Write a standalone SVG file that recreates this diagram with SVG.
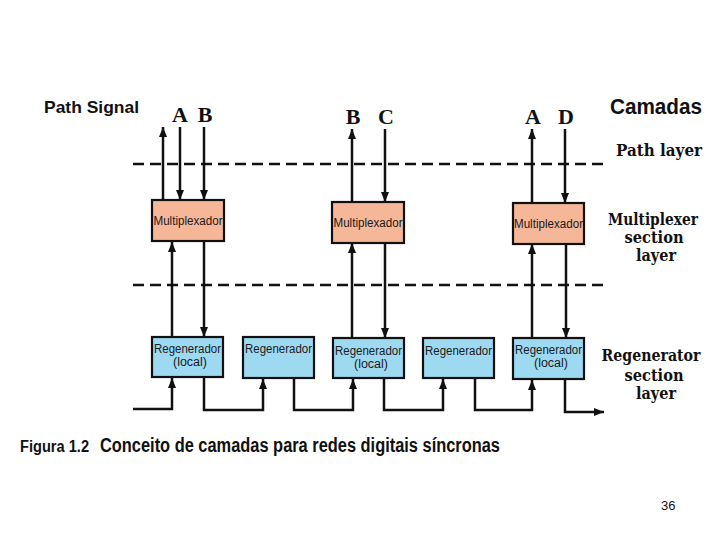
<svg xmlns="http://www.w3.org/2000/svg" width="720" height="540" viewBox="0 0 720 540">
<style>
.mux{fill:#F5B797;stroke:#111;stroke-width:2.2}
.reg{fill:#9ED9F2;stroke:#111;stroke-width:2.2}
.bt{font-family:"Liberation Sans",Arial,sans-serif;font-size:12.5px;fill:#1a1a1a;text-anchor:middle}
.ln{fill:none;stroke:#111;stroke-width:2.5}
.dash{fill:none;stroke:#111;stroke-width:2.6;stroke-dasharray:11 6}
.let{font-family:"Liberation Serif","Times New Roman",serif;font-weight:bold;font-size:22px;fill:#111;text-anchor:middle}
.lay{font-family:"DejaVu Serif",serif;font-weight:bold;font-size:16px;fill:#111;text-anchor:middle}
.sans{font-family:"Liberation Sans",Arial,sans-serif;fill:#111}
</style>
<defs>
<marker id="ah" viewBox="0 0 10 8" refX="10" refY="4" markerWidth="10" markerHeight="8" markerUnits="userSpaceOnUse" orient="auto">
<path d="M0,0 L10,4 L0,8 z" fill="#111"/>
</marker>
</defs>
<rect width="720" height="540" fill="#fff"/>

<g id="connectors">
<line class="dash" x1="133" y1="164" x2="605" y2="164"/>
<line class="dash" x1="133" y1="285" x2="605" y2="285"/>
<line class="ln" x1="163" y1="200" x2="163" y2="127" marker-end="url(#ah)"/>
<line class="ln" x1="180" y1="127" x2="180" y2="200" marker-end="url(#ah)"/>
<line class="ln" x1="204" y1="127" x2="204" y2="200" marker-end="url(#ah)"/>
<line class="ln" x1="352" y1="202" x2="352" y2="129" marker-end="url(#ah)"/>
<line class="ln" x1="385" y1="129" x2="385" y2="202" marker-end="url(#ah)"/>
<line class="ln" x1="532" y1="203" x2="532" y2="129" marker-end="url(#ah)"/>
<line class="ln" x1="565" y1="129" x2="565" y2="203" marker-end="url(#ah)"/>
<line class="ln" x1="172" y1="337" x2="172" y2="242" marker-end="url(#ah)"/>
<line class="ln" x1="204" y1="242" x2="204" y2="337" marker-end="url(#ah)"/>
<line class="ln" x1="352" y1="338" x2="352" y2="243" marker-end="url(#ah)"/>
<line class="ln" x1="385" y1="243" x2="385" y2="338" marker-end="url(#ah)"/>
<line class="ln" x1="532" y1="338" x2="532" y2="244" marker-end="url(#ah)"/>
<line class="ln" x1="566" y1="244" x2="566" y2="338" marker-end="url(#ah)"/>
<polyline class="ln" points="133,409 172,409 172,378" marker-end="url(#ah)"/>
<polyline class="ln" points="204,378 204,410 263,410 263,379" marker-end="url(#ah)"/>
<polyline class="ln" points="294,379 294,410 353,410 353,379" marker-end="url(#ah)"/>
<polyline class="ln" points="384,379 384,410 443,410 443,379" marker-end="url(#ah)"/>
<polyline class="ln" points="475,379 475,410 532,410 532,380" marker-end="url(#ah)"/>
<polyline class="ln" points="565,380 565,412 604,412" marker-end="url(#ah)"/>
</g>

<g id="mux1"><rect class="mux" x="152" y="200" width="72" height="41"/><text class="bt" x="188" y="225" textLength="69" lengthAdjust="spacingAndGlyphs">Multiplexador</text></g>
<g id="mux2"><rect class="mux" x="332" y="202" width="72" height="41"/><text class="bt" x="368" y="227" textLength="69" lengthAdjust="spacingAndGlyphs">Multiplexador</text></g>
<g id="mux3"><rect class="mux" x="513" y="203" width="71" height="41"/><text class="bt" x="548.5" y="228" textLength="69" lengthAdjust="spacingAndGlyphs">Multiplexador</text></g>

<g id="reg1"><rect class="reg" x="152" y="337" width="71" height="40"/><text class="bt" x="187.5" y="353" textLength="67" lengthAdjust="spacingAndGlyphs">Regenerador</text><text class="bt" x="190" y="366">(local)</text></g>
<g id="reg2"><rect class="reg" x="243" y="337" width="71" height="41"/><text class="bt" x="278.5" y="353" textLength="67" lengthAdjust="spacingAndGlyphs">Regenerador</text></g>
<g id="reg3"><rect class="reg" x="333" y="338" width="71" height="40"/><text class="bt" x="368.5" y="355" textLength="67" lengthAdjust="spacingAndGlyphs">Regenerador</text><text class="bt" x="371" y="368">(local)</text></g>
<g id="reg4"><rect class="reg" x="423" y="338" width="71" height="40"/><text class="bt" x="458.5" y="355" textLength="67" lengthAdjust="spacingAndGlyphs">Regenerador</text></g>
<g id="reg5"><rect class="reg" x="513" y="338" width="71" height="41"/><text class="bt" x="548.5" y="354" textLength="67" lengthAdjust="spacingAndGlyphs">Regenerador</text><text class="bt" x="551" y="367">(local)</text></g>

<g id="labels">
<text class="sans" x="44" y="113" font-size="17" font-weight="bold" textLength="95" lengthAdjust="spacingAndGlyphs">Path  Signal</text>
<text class="let" x="180" y="122">A</text>
<text class="let" x="205" y="122">B</text>
<text class="let" x="353" y="124">B</text>
<text class="let" x="386" y="124">C</text>
<text class="let" x="533" y="124">A</text>
<text class="let" x="566" y="124">D</text>
<text class="sans" x="610" y="114" font-size="22" font-weight="bold" textLength="92" lengthAdjust="spacingAndGlyphs">Camadas</text>
<text class="lay" x="659" y="156" textLength="86" lengthAdjust="spacingAndGlyphs">Path  layer</text>
<text class="lay" x="653" y="225" textLength="90" lengthAdjust="spacingAndGlyphs">Multiplexer</text>
<text class="lay" x="654" y="243" textLength="59" lengthAdjust="spacingAndGlyphs">section</text>
<text class="lay" x="656" y="261" textLength="40" lengthAdjust="spacingAndGlyphs">layer</text>
<text class="lay" x="651" y="361" textLength="99" lengthAdjust="spacingAndGlyphs">Regenerator</text>
<text class="lay" x="654" y="381" textLength="59" lengthAdjust="spacingAndGlyphs">section</text>
<text class="lay" x="656" y="399" textLength="40" lengthAdjust="spacingAndGlyphs">layer</text>
<text class="sans" x="20" y="452" font-size="16" font-weight="bold" textLength="69" lengthAdjust="spacingAndGlyphs">Figura 1.2</text>
<text class="sans" x="100" y="452" font-size="20" font-weight="bold" textLength="400" lengthAdjust="spacingAndGlyphs">Conceito de camadas para redes digitais síncronas</text>
<text class="sans" x="661" y="510" font-size="13">36</text>
</g>
</svg>
